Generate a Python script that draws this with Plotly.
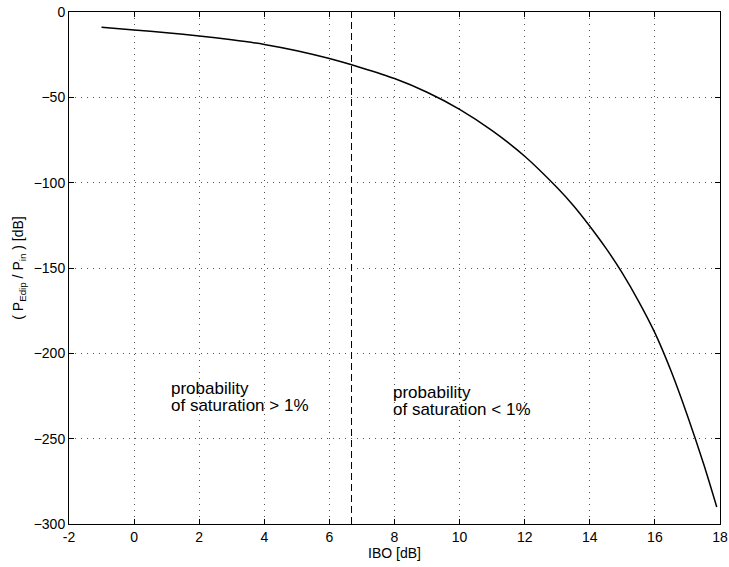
import plotly.graph_objects as go

# Data
ibo_db = [-1, 0, 1, 2, 3, 4, 5, 6, 7, 8, 9, 10, 11, 12, 13, 13.5, 14, 14.5, 15, 15.5,
          16, 16.5, 17, 17.5, 17.9]
p_ratio_db = [-9.0, -10.5, -12.1, -14.0, -16.3, -19.0, -22.7, -27.3, -32.8, -39.0, -47.0,
              -57.0, -69.5, -84.5, -103.0, -113.5, -125.5, -138.5, -153.0, -169.5,
              -188.0, -210.5, -236.5, -265.0, -290.0]

threshold_x = [6.68, 6.68]
threshold_y = [-300, 0]

x_ticks = [-2, 0, 2, 4, 6, 8, 10, 12, 14, 16, 18]
y_ticks = [-300, -250, -200, -150, -100, -50, 0]

left_text = ["probability", "of saturation > 1%"]
left_text_pos = [(1.06, -220.5), (1.06, -230.5)]
right_text = ["probability", "of saturation < 1%"]
right_text_pos = [(7.9, -223.0), (7.9, -233.0)]

FONT = "Liberation Sans, Arial, Helvetica, sans-serif"

fig = go.Figure()
fig.add_trace(go.Scatter(x=ibo_db, y=p_ratio_db, mode="lines",
                         line=dict(color="black", width=1.5, shape="spline", smoothing=0.8),
                         showlegend=False, hoverinfo="skip"))
fig.add_trace(go.Scatter(x=threshold_x, y=threshold_y, mode="lines",
                         line=dict(color="black", width=1, dash="7px,4px"),
                         showlegend=False, hoverinfo="skip"))

annotations = []
for txt, (x, y) in list(zip(left_text, left_text_pos)) + list(zip(right_text, right_text_pos)):
    annotations.append(dict(x=x, y=y, xref="x", yref="y", text=txt, showarrow=False,
                            xanchor="left", yanchor="middle", align="left",
                            font=dict(family=FONT, size=17, color="black")))

axis_common = dict(showline=True, linecolor="black", linewidth=1, mirror="allticks",
                   ticks="inside", ticklen=5, tickwidth=1, tickcolor="black",
                   showgrid=True, gridcolor="#555555", gridwidth=1, griddash="1px,5px",
                   zeroline=False, tickfont=dict(family=FONT, size=14, color="black"))

fig.update_layout(
    width=729, height=567,
    margin=dict(l=69, r=9, t=12, b=43),
    paper_bgcolor="white", plot_bgcolor="white",
    font=dict(family=FONT, size=14, color="black"),
    annotations=annotations,
    xaxis=dict(range=[-2, 18], tickvals=x_ticks, ticktext=[str(v) for v in x_ticks],
               title=dict(text="IBO [dB]", standoff=2, font=dict(family=FONT, size=14)),
               automargin=False, **axis_common),
    yaxis=dict(range=[-300, 0], tickvals=y_ticks, ticktext=[str(v).replace("-", "\u2212") for v in y_ticks],
               title=dict(text="( P<sub>Edip</sub> / P<sub>in</sub> ) [dB]", standoff=6,
                          font=dict(family=FONT, size=14)),
               automargin=False, **axis_common),
)

fig.write_html("out.html")
